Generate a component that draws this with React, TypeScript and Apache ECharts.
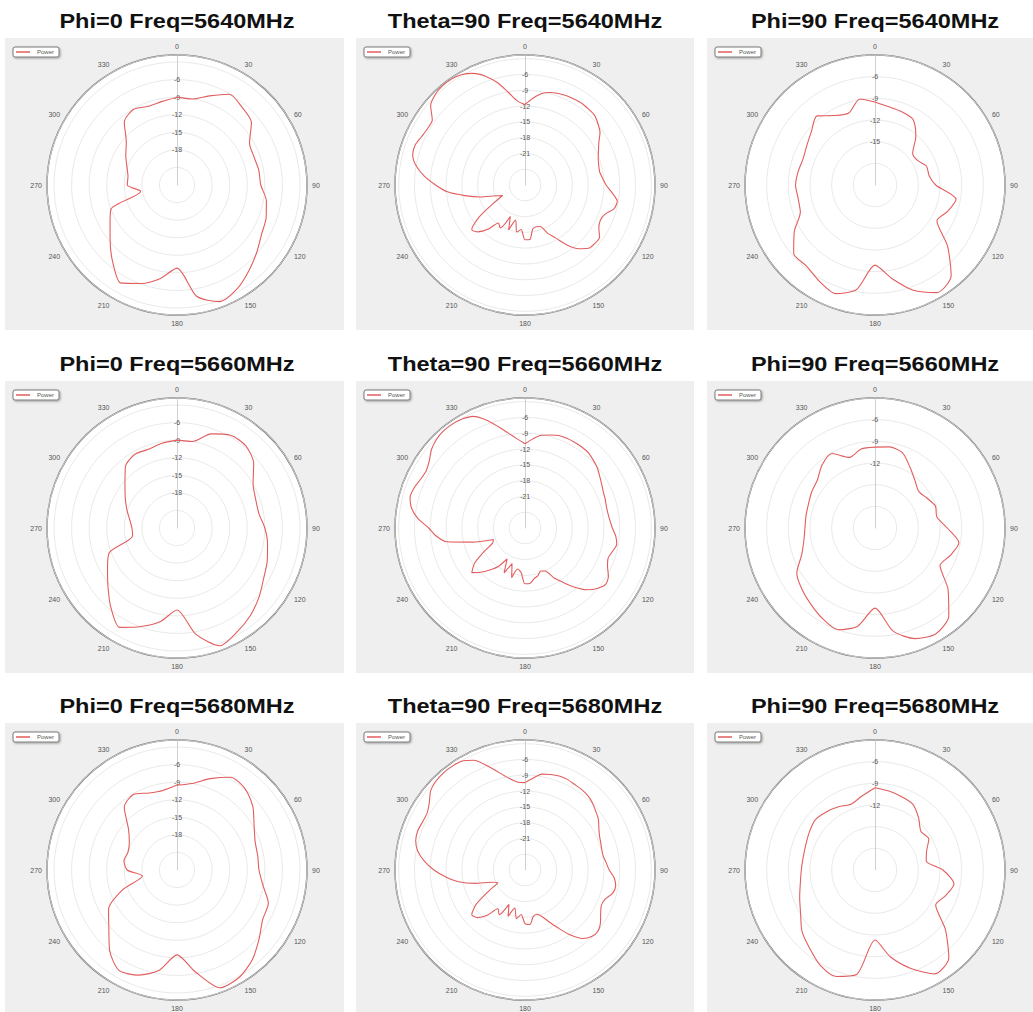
import React, { useEffect, useRef } from "react";
import * as echarts from "echarts";

// ---------- data ----------
const ANGLES_10 = [0, 10, 20, 30, 40, 50, 60, 70, 80, 90, 100, 110, 120, 130, 140, 150, 160, 170, 180, 190, 200, 210, 220, 230, 240, 250, 260, 270, 280, 290, 300, 310, 320, 330, 340, 350];
const ANGLES_5 = [0, 5, 10, 15, 20, 25, 30, 35, 40, 45, 50, 55, 60, 65, 70, 75, 80, 85, 90, 95, 100, 105, 110, 115, 120, 125, 130, 135, 140, 145, 150, 155, 160, 165, 170, 175, 180, 185, 190, 195, 200, 205, 210, 215, 220, 225, 230, 235, 240, 245, 250, 255, 260, 265, 270, 275, 280, 285, 290, 295, 300, 305, 310, 315, 320, 325, 330, 335, 340, 345, 350, 355];

const TITLES = [
  "Phi=0 Freq=5640MHz", "Theta=90 Freq=5640MHz", "Phi=90 Freq=5640MHz",
  "Phi=0 Freq=5660MHz", "Theta=90 Freq=5660MHz", "Phi=90 Freq=5660MHz",
  "Phi=0 Freq=5680MHz", "Theta=90 Freq=5680MHz", "Phi=90 Freq=5680MHz",
];

const LEGEND_NAME = "Power";

const PHI0_5640 = [-9.0, -9.1, -7.8, -6.1, -6.7, -7.4, -9.7, -10.0, -9.8, -9.7, -8.5, -7.8, -7.3, -6.2, -4.9, -3.5, -2.8, -4.7, -9.8, -7.8, -6.1, -4.7, -6.9, -9.1, -10.8, -12.0, -17.7, -15.5, -15.5, -14.9, -13.9, -12.7, -10.0, -9.1, -9.7, -9.5];
const PHI0_5660 = [-9.0, -9.0, -6.9, -5.7, -5.7, -6.9, -9.0, -9.7, -9.8, -9.0, -8.3, -7.6, -6.9, -5.7, -4.5, -3.5, -2.6, -5.6, -10.0, -7.8, -6.1, -4.4, -6.4, -8.6, -10.3, -11.7, -16.3, -16.3, -15.8, -14.9, -13.8, -12.4, -10.3, -9.5, -9.7, -9.3];
const PHI0_5680 = [-9.5, -9.0, -7.4, -5.7, -5.9, -7.1, -8.8, -9.8, -10.0, -10.0, -9.1, -7.4, -7.1, -5.7, -4.0, -2.8, -2.6, -6.4, -9.5, -6.6, -4.9, -4.2, -6.1, -8.8, -10.5, -14.1, -18.0, -15.5, -14.8, -15.1, -14.6, -13.2, -10.0, -9.1, -10.0, -10.2];

const THETA90_5640 = [
  -11.7, -10.5, -9.4, -8.8, -8.5, -8.3, -8.2, -8.1, -8.2, -8.3,
  -8.9, -9.6, -10.8, -11.6, -12.2, -12.5, -12.6, -12.2, -11.6, -10.4,
  -9.2, -9.5, -10.8, -11.2, -10.8, -9.7, -9.7, -10.0, -11.2, -13.1,
  -15.4, -16.9, -18.6, -18.8, -18.5, -16.6, -16.6, -18.5, -17.9, -20.1,
  -17.9, -20.4, -17.6, -18.2, -16.0, -14.4, -13.8, -16.3, -20.1, -22.3,
  -21.0, -18.2, -15.4, -12.2, -10.0, -7.8, -6.0, -4.9, -4.8, -5.3,
  -5.6, -5.5, -3.6, -2.8, -2.5, -2.5, -2.8, -3.6, -5.0, -6.9,
  -9.2, -11.0,
];
const THETA90_5660 = [
  -11.0, -10.0, -9.1, -8.7, -8.3, -8.2, -8.2, -8.2, -8.3, -8.7,
  -9.1, -9.7, -10.2, -10.6, -10.8, -11.0, -11.0, -10.8, -10.4, -9.7,
  -9.3, -9.8, -10.2, -9.7, -8.7, -8.3, -9.1, -10.4, -12.3, -14.4,
  -16.1, -18.0, -18.3, -17.6, -17.2, -16.4, -16.4, -18.5, -19.1, -17.2,
  -19.8, -17.6, -20.2, -18.0, -16.6, -15.1, -13.8, -15.3, -18.0, -20.2,
  -20.6, -16.6, -11.9, -10.0, -8.7, -6.6, -5.1, -4.4, -4.6, -5.1,
  -5.3, -4.8, -3.8, -3.2, -2.9, -2.9, -3.1, -3.6, -5.1, -7.0,
  -8.7, -10.0,
];
const THETA90_5680 = [
  -10.4, -9.5, -8.5, -8.2, -8.0, -8.0, -8.2, -8.3, -8.5, -8.9,
  -9.5, -10.0, -10.8, -11.4, -11.7, -11.9, -11.9, -11.5, -11.0, -10.0,
  -9.5, -9.8, -10.8, -11.0, -10.4, -9.5, -8.9, -9.1, -10.0, -11.9,
  -14.2, -16.1, -17.6, -18.3, -18.0, -16.6, -16.8, -18.5, -17.6, -19.5,
  -17.6, -19.8, -17.2, -18.0, -15.7, -14.2, -13.8, -15.7, -19.1, -21.3,
  -20.2, -17.2, -14.2, -11.9, -9.7, -7.8, -6.3, -5.5, -5.3, -5.5,
  -5.5, -4.8, -3.6, -3.1, -2.9, -2.9, -3.1, -4.0, -5.9, -7.8,
  -9.3, -10.2,
];

const PHI90_5640 = [-9.5, -10.0, -10.2, -10.5, -12.2, -14.2, -14.2, -13.4, -13.4, -12.6, -9.6, -10.3, -11.1, -7.9, -4.6, -3.8, -5.5, -7.9, -9.9, -6.3, -5.0, -5.6, -6.3, -6.3, -8.1, -10.0, -10.2, -10.0, -10.2, -10.4, -10.1, -9.5, -8.5, -9.9, -10.4, -8.9];
const PHI90_5660 = [-9.8, -9.6, -9.9, -11.3, -12.4, -13.1, -12.7, -12.1, -12.3, -11.0, -9.2, -9.9, -10.6, -7.8, -5.1, -4.1, -4.7, -6.5, -9.9, -7.2, -6.0, -6.5, -7.2, -7.8, -8.5, -10.2, -11.0, -11.3, -11.3, -11.2, -10.9, -10.6, -9.6, -9.1, -10.6, -9.9];
const PHI90_5680 = [-9.6, -9.9, -10.2, -10.5, -11.6, -12.7, -12.4, -13.4, -13.8, -11.6, -9.9, -10.6, -11.3, -8.3, -5.1, -4.4, -6.5, -8.8, -11.3, -6.3, -5.3, -5.8, -6.9, -7.8, -9.1, -9.9, -10.5, -10.8, -10.9, -10.8, -10.5, -10.2, -10.5, -10.9, -11.3, -10.6];

const SERIES_VALUES = [
  PHI0_5640, THETA90_5640, PHI90_5640,
  PHI0_5660, THETA90_5660, PHI90_5660,
  PHI0_5680, THETA90_5680, PHI90_5680,
];
const SERIES_ANGLES = [
  ANGLES_10, ANGLES_5, ANGLES_10,
  ANGLES_10, ANGLES_5, ANGLES_10,
  ANGLES_10, ANGLES_5, ANGLES_10,
];

// radial (dB) scale per column
const RADIAL_MIN = [-24, -27, -21];
const RADIAL_MAX = [-1.8, -2.3, -3];
const RADIAL_LABELS = [
  ["-6", "-9", "-12", "-15", "-18"], ["-6", "-9", "-12", "-15", "-18", "-21"], ["-6", "-9", "-12", "-15"],
  ["-6", "-9", "-12", "-15", "-18"], ["-6", "-9", "-12", "-15", "-18", "-21"], ["-6", "-9", "-12"],
  ["-6", "-9", "-12", "-15", "-18"], ["-6", "-9", "-12", "-15", "-18", "-21"], ["-6", "-9", "-12"],
];

// ---------- layout ----------
const COLS = [
  { cx: 177, rx: 5, rw: 339 },
  { cx: 525, rx: 356, rw: 338 },
  { cx: 875, rx: 707, rw: 326 },
];
const ROWS = [
  { cy: 185, ty: 21, ry: 38, rh: 292 },
  { cy: 528, ty: 364, ry: 381, rh: 292 },
  { cy: 870, ty: 706, ry: 723, rh: 289 },
];
const RADIUS = 130;
const LINE_COLOR = "#e25d5d";
const FONT = "'Liberation Sans', Arial, sans-serif";

export default function App() {
  const ref = useRef<HTMLDivElement>(null);

  useEffect(() => {
    if (!ref.current) return;
    const chart = echarts.init(ref.current, undefined, { renderer: "svg" });

    const panels = TITLES.map((title, i) => {
      const col = COLS[i % 3];
      const row = ROWS[Math.floor(i / 3)];
      return { title, i, colIdx: i % 3, ...col, ...row };
    });

    const backgrounds = panels.map((p) => ({
      type: "rect",
      z: -10,
      silent: true,
      shape: { x: p.rx, y: p.ry, width: p.rw, height: p.rh },
      style: { fill: "#efefef" },
    }));
    const titles = panels.map((p) => ({
      type: "text",
      x: p.cx,
      y: p.ty,
      scaleX: 1.12,
      silent: true,
      style: {
        text: p.title,
        fill: "#111",
        font: `bold 21px ${FONT}`,
        textAlign: "center",
        textVerticalAlign: "middle",
      },
    }));

    const option: any = {
      animation: false,
      backgroundColor: "#ffffff",
      legend: panels.map((p) => ({
        left: p.rx + 8,
        top: p.ry + 9,
        data: [{ name: LEGEND_NAME, icon: "rect" }],
        orient: "horizontal",
        itemWidth: 14,
        itemHeight: 1.5,
        itemGap: 2,
        padding: [2, 5, 2, 3],
        borderColor: "#7a7a7a",
        borderWidth: 1,
        borderRadius: 2,
        backgroundColor: "#ffffff",
        shadowColor: "rgba(0,0,0,0.35)",
        shadowBlur: 2,
        shadowOffsetX: 1,
        shadowOffsetY: 1,
        selectedMode: false,
        textStyle: { fontFamily: FONT, fontSize: 6, color: "#555", padding: [0, 0, 0, 2] },
      })),
      graphic: [...backgrounds, ...titles],
      polar: panels.map((p) => ({ center: [p.cx, p.cy], radius: RADIUS })),
      angleAxis: panels.map((p, i) => ({
        polarIndex: i,
        type: "value",
        min: 0,
        max: 360,
        interval: 30,
        startAngle: 90,
        clockwise: true,
        z: 1,
        axisLine: { show: true, lineStyle: { color: "#6d6d6d", width: 1.5 } },
        axisTick: { show: false },
        axisLabel: {
          margin: 5,
          fontSize: 7,
          fontFamily: FONT,
          color: "#555",
          formatter: (v: number) => (v === 360 ? "" : String(v)),
        },
        splitLine: { show: true, lineStyle: { color: "#d9d9d9", width: 0.8 } },
        splitArea: { show: true, areaStyle: { color: ["#ffffff"] } },
      })),
      radiusAxis: panels.map((p, i) => ({
        polarIndex: i,
        type: "value",
        min: RADIAL_MIN[p.colIdx],
        max: RADIAL_MAX[p.colIdx],
        interval: 3,
        z: 2,
        axisLine: { show: true, lineStyle: { color: "#c4c4c4", width: 0.8 } },
        axisTick: { show: false },
        axisLabel: {
          margin: 0,
          align: "center",
          verticalAlign: "middle",
          fontSize: 7,
          fontFamily: FONT,
          color: "#555",
          formatter: (v: number) => {
            const s = String(Math.round(v));
            return RADIAL_LABELS[i].includes(s) && Math.abs(v - Math.round(v)) < 1e-6 ? s : "";
          },
        },
        splitLine: { show: true, lineStyle: { color: "#e3e3e3", width: 0.8 } },
      })),
      series: panels.map((p, i) => {
        const vals = SERIES_VALUES[i];
        const angs = SERIES_ANGLES[i];
        const data = vals.map((v, k) => [v, angs[k]]);
        data.push([vals[0], 360]);
        return {
          type: "line",
          name: LEGEND_NAME,
          coordinateSystem: "polar",
          polarIndex: i,
          data,
          symbol: "none",
          showSymbol: false,
          smooth: 0.25,
          z: 3,
          lineStyle: { color: LINE_COLOR, width: 1.1 },
          itemStyle: { color: LINE_COLOR },
        };
      }),
    };

    chart.setOption(option);
    return () => chart.dispose();
  }, []);

  return (
    <div
      ref={ref}
      style={{ position: "fixed", left: 0, top: 0, width: 1033, height: 1012, background: "#fff" }}
    />
  );
}
